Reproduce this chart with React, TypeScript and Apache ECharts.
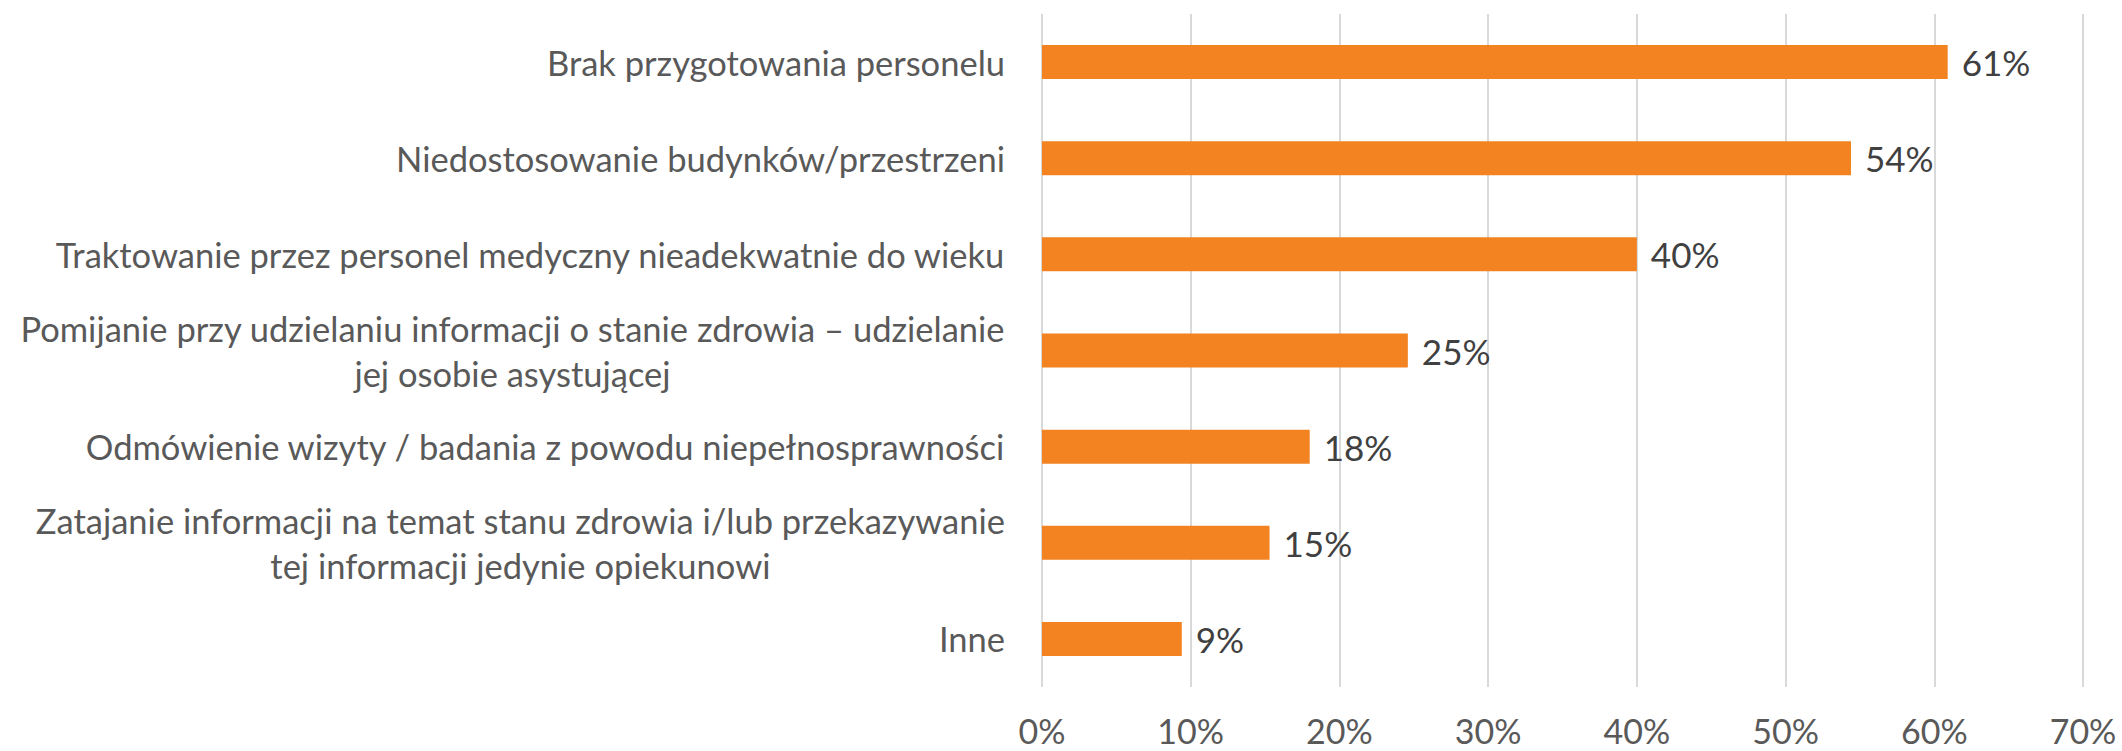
import React, { useEffect, useRef } from "react";
import * as echarts from "echarts";

const categories: string[] = [
  "Brak przygotowania personelu",
  "Niedostosowanie budynków/przestrzeni",
  "Traktowanie przez personel medyczny nieadekwatnie do wieku",
  "Pomijanie przy udzielaniu informacji o stanie zdrowia – udzielanie\njej osobie asystującej",
  "Odmówienie wizyty / badania z powodu niepełnosprawności",
  "Zatajanie informacji na temat stanu zdrowia i/lub przekazywanie\ntej informacji jedynie opiekunowi",
  "Inne",
];

const values: number[] = [60.9, 54.4, 40.0, 24.6, 18.0, 15.3, 9.4];

const xTicks: number[] = [0, 10, 20, 30, 40, 50, 60, 70];

const FONT = "Lato";

export default function App() {
  const ref = useRef<HTMLDivElement>(null);

  useEffect(() => {
    document.body.style.margin = "0";
    if (!ref.current) return;
    const chart = echarts.init(ref.current, undefined, { renderer: "svg" });
    chart.setOption({
      animation: false,
      backgroundColor: "#ffffff",
      grid: { left: 1042, right: 39, top: 14, bottom: 64, containLabel: false },
      xAxis: {
        type: "value",
        min: xTicks[0],
        max: xTicks[xTicks.length - 1],
        interval: 10,
        axisLine: { show: false },
        axisTick: { show: false },
        splitLine: { show: true, lineStyle: { color: "#D9D9D9", width: 2 } },
        axisLabel: {
          formatter: (v: number) => `${v}%`,
          color: "#595959",
          fontFamily: FONT,
          fontSize: 34,
          margin: 26,
        },
      },
      yAxis: {
        type: "category",
        inverse: true,
        data: categories,
        axisLine: { show: false },
        axisTick: { show: false },
        splitLine: { show: false },
        axisLabel: {
          margin: 37,
          align: "right",
          formatter: (v: string) =>
            v
              .split("\n")
              .map((l) => `{c|${l}}`)
              .join("\n"),
          rich: {
            c: {
              align: "center",
              color: "#595959",
              fontFamily: FONT,
              fontSize: 34.5,
              lineHeight: 45,
            },
          },
        },
      },
      series: [
        {
          type: "bar",
          data: values,
          barWidth: 34,
          itemStyle: { color: "#F38221" },
          label: {
            show: true,
            position: "right",
            distance: 14,
            formatter: (p: any) => `${Math.round(p.value)}%`,
            color: "#404040",
            fontFamily: FONT,
            fontSize: 35,
          },
        },
      ],
    });
    return () => chart.dispose();
  }, []);

  return <div ref={ref} style={{ width: 2122, height: 751 }} />;
}
